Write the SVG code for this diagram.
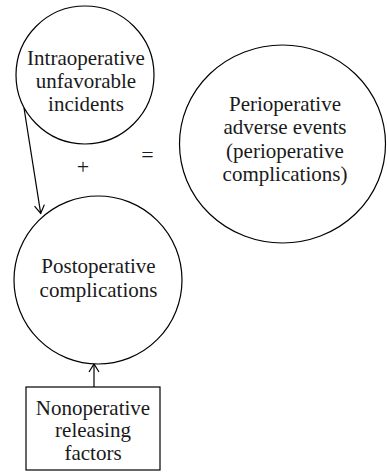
<svg xmlns="http://www.w3.org/2000/svg" width="387" height="472" viewBox="0 0 387 472">
<style>
.shape{fill:#fff;stroke:#000;stroke-width:1.2}
.lbl{font-family:"Liberation Serif","Times New Roman",serif;font-size:21px;fill:#1a1a1a;text-anchor:middle}
.op{font-family:"Liberation Serif","Times New Roman",serif;font-size:22px;fill:#1a1a1a;text-anchor:middle}
.conn{stroke:#000;stroke-width:1.2;fill:none}
</style>
<defs>
<marker id="arrow" markerUnits="userSpaceOnUse" markerWidth="20" markerHeight="20" refX="0" refY="0" viewBox="-10 -10 20 20" orient="auto">
<path d="M-8,-5 L0,0 L-8,5" fill="none" stroke="#000" stroke-width="1.2"/>
</marker>
</defs>
<rect width="387" height="472" fill="#fff"/>
<g id="connectors">
<line class="conn" x1="24" y1="108" x2="40.7" y2="213.3" marker-end="url(#arrow)"/>
<line class="conn" x1="94" y1="387" x2="94" y2="364" marker-end="url(#arrow)"/>
</g>
<g id="intraoperative">
<circle class="shape" cx="85" cy="75" r="69"/>
<text class="lbl" x="86" y="65">Intraoperative</text>
<text class="lbl" x="86" y="88">unfavorable</text>
<text class="lbl" x="86" y="111">incidents</text>
</g>
<g id="perioperative">
<ellipse class="shape" cx="282.5" cy="144" rx="103" ry="99"/>
<text class="lbl" x="285" y="110.5">Perioperative</text>
<text class="lbl" x="285" y="134">adverse events</text>
<text class="lbl" x="285" y="157.5">(perioperative</text>
<text class="lbl" x="285" y="181">complications)</text>
</g>
<g id="postoperative">
<circle class="shape" cx="98" cy="280" r="84"/>
<text class="lbl" x="98.5" y="273">Postoperative</text>
<text class="lbl" x="98.5" y="297">complications</text>
</g>
<g id="nonoperative">
<rect class="shape" x="26" y="387" width="134" height="83"/>
<text class="lbl" x="93" y="415">Nonoperative</text>
<text class="lbl" x="93" y="437">releasing</text>
<text class="lbl" x="93" y="460">factors</text>
</g>
<g id="operators">
<text class="op" x="83" y="173.5">+</text>
<text class="op" x="147.5" y="162">=</text>
</g>
</svg>
